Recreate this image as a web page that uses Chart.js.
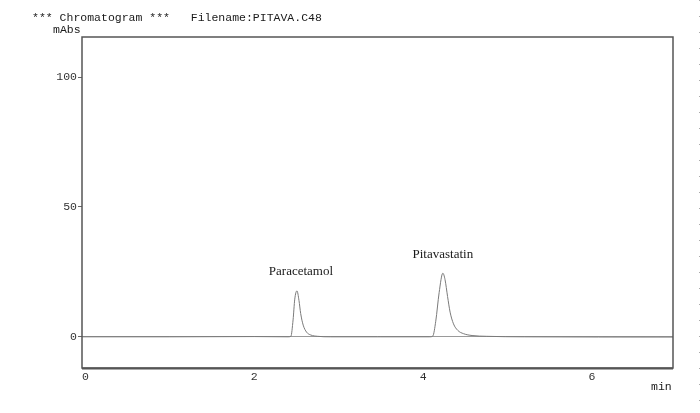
<!DOCTYPE html>
<html>
<head>
<meta charset="utf-8">
<script src="https://cdn.jsdelivr.net/npm/chart.js@4"></script>
<style>
    body { margin: 0; background: #fff; }
    #wrap { position: relative; width: 700px; height: 413px; }
    #dots {
        position: absolute; right: 0; top: 0; width: 1px; height: 413px;
        background: repeating-linear-gradient(to bottom, #aaa 0 1px, transparent 1px 16px);
    }
</style>
</head>
<body>
<div id="wrap">
    <canvas id="chart" width="700" height="413"></canvas>
    <div id="dots"></div>
</div>
<script>
// ===== DATA =====
const timeMin = [-0.04, 1.00, 2.00, 2.40, 2.434, 2.46, 2.48, 2.506, 2.53, 2.55, 2.58, 2.62, 2.67, 2.75, 2.90,
                 3.50, 4.08, 4.115, 4.15, 4.19, 4.234, 4.26, 4.29, 4.32, 4.36, 4.41, 4.48, 4.58, 4.75, 5.20, 6.96];
const absorb  = [0, 0, 0.1, 0, 0.2, 6.5, 14.5, 17.7, 14.0, 9.0, 4.5, 1.8, 0.7, 0.2, 0,
                 0, 0, 0.3, 6.0, 17.0, 24.5, 22.0, 15.5, 9.5, 5.0, 2.5, 1.2, 0.5, 0.2, 0, -0.1];
const peakNames = ["Paracetamol", "Pitavastatin"];
const peakTimes = [2.506, 4.234];
const peakHeights = [17.7, 24.5];
const yTicks = [0, 50, 100];
const xTicks = [0, 2, 4, 6];

const mono = "'Liberation Mono', 'DejaVu Sans Mono', monospace";
const labelNudge = [[4, -16], [0, -15]];

// ===== TEXT + FRAME PLUGIN =====
const decor = {
    id: "decor",
    afterDraw(chart) {
        const c = chart.ctx;
        const a = chart.chartArea;
        const xs = chart.scales.x, ys = chart.scales.y;
        c.save();
        // frame
        c.strokeStyle = "#555";
        c.lineWidth = 1.5;
        c.strokeRect(a.left, a.top, a.right - a.left, a.bottom - a.top);
        c.lineWidth = 2;
        c.beginPath();
        c.moveTo(a.left, a.bottom + 0.5);
        c.lineTo(a.right, a.bottom + 0.5);
        c.stroke();
        // header texts
        c.fillStyle = "#1a1a1a";
        c.font = "11.5px " + mono;
        c.textBaseline = "middle";
        c.textAlign = "left";
        c.fillText("*** Chromatogram ***   Filename:PITAVA.C48", 32, 18);
        c.fillText("mAbs", 53, 30);
        c.fillText("min", 651, 387);
        // peak names
        c.font = "13px 'Liberation Serif', 'DejaVu Serif', serif";
        c.textAlign = "center";
        c.textBaseline = "alphabetic";
        peakNames.forEach((name, i) => {
            const px = xs.getPixelForValue(peakTimes[i]);
            const py = ys.getPixelForValue(peakHeights[i]);
            c.fillText(name, px + labelNudge[i][0], py + labelNudge[i][1]);
        });
        c.restore();
    }
};

// ===== CHART =====
new Chart(document.getElementById("chart"), {
    type: "line",
    data: {
        datasets: [{
            data: timeMin.map((t, i) => ({ x: t, y: absorb[i] })),
            borderColor: "#7a7a7a",
            borderWidth: 1,
            pointRadius: 0,
            cubicInterpolationMode: "monotone",
            fill: false
        }]
    },
    options: {
        responsive: false,
        animation: false,
        layout: { padding: { left: 0, right: 27, top: 37, bottom: 0 } },
        plugins: { legend: { display: false }, tooltip: { enabled: false } },
        scales: {
            x: {
                type: "linear",
                min: -0.04,
                max: 6.96,
                afterBuildTicks: s => { s.ticks = xTicks.map(v => ({ value: v })); },
                afterFit: s => { s.height = 45; },
                border: { display: false },
                grid: { display: false },
                ticks: { color: "#333", font: { family: mono, size: 11.5 }, padding: -6 }
            },
            y: {
                min: -12,
                max: 115.4,
                afterBuildTicks: s => { s.ticks = yTicks.map(v => ({ value: v })); },
                afterFit: s => { s.width = 82; },
                border: { display: false },
                grid: {
                    color: ctx => ctx.tick && ctx.tick.value === 0 ? "#9a9a9a" : "transparent",
                    tickColor: "#666",
                    tickLength: 4,
                    lineWidth: 1
                },
                ticks: { color: "#333", font: { family: mono, size: 11.5 }, padding: 1 }
            }
        }
    },
    plugins: [decor]
});
</script>
</body>
</html>
